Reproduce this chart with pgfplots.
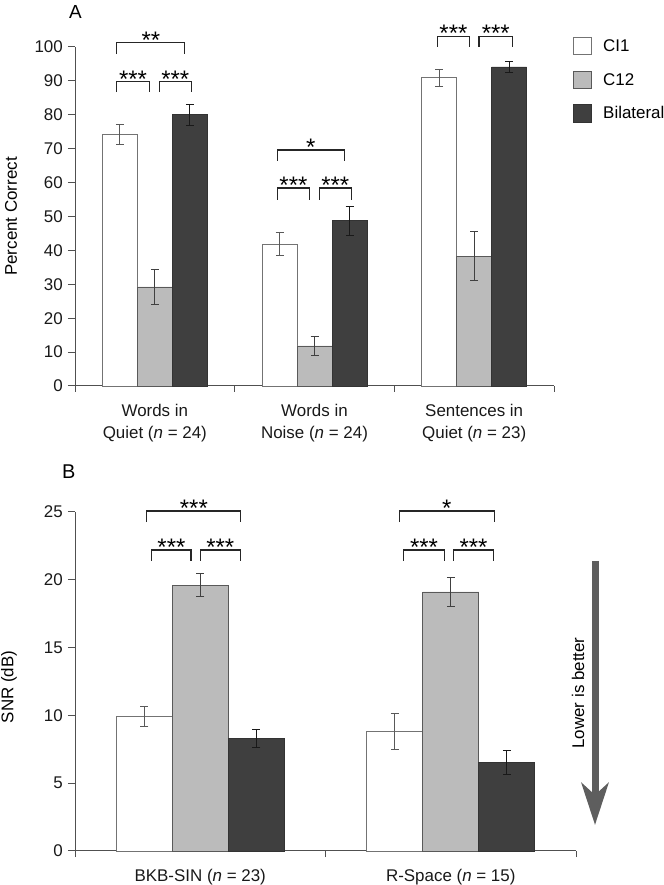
\documentclass[border=0pt]{standalone}
\usepackage{fontspec}
\setmainfont{Liberation Sans}
\usepackage{pgfplots}
\pgfplotsset{compat=1.18}
\usepackage{pgfplotstable}
\usetikzlibrary{arrows.meta}

\definecolor{cgray}{HTML}{BBBBBB}
\definecolor{cdark}{HTML}{3F3F3F}
\definecolor{axgray}{HTML}{505050}
\definecolor{arrowgray}{HTML}{5E5E5E}

\pgfplotstableread{
x CI CIe C CCe B Be
0 74.2 2.9 29.2 5.1 80.0 3.1
1 41.8 3.4 11.8 2.8 48.7 4.2
2 90.9 2.5 38.3 7.3 94.1 1.7
}\dataA

\pgfplotstableread{
x CI CIe C CCe B Be
0 9.9 0.72 19.6 0.85 8.3 0.67
1 8.8 1.35 19.1 1.05 6.5 0.88
}\dataB

\newcommand{\fs}{\fontsize{17}{22}\selectfont}
\newcommand{\br}[5]{%
 \draw[brk] (axis cs:#1,#4) |- (axis cs:#2,#3) -- (axis cs:#2,#4);
 \node[star] at (axis cs:{(#1+#2)/2},#3) {#5};}

\tikzset{
 brk/.style={draw=black!85, line width=1.1bp},
 star/.style={anchor=base, font=\fontsize{24}{24}\selectfont, yshift=-5.5bp, inner sep=0pt},
}

\pgfplotsset{
 common/.style={
  scale only axis, clip=false,
  axis x line*=bottom, axis y line*=left,
  axis line style={draw=axgray, line width=1bp},
  ybar,
  tick align=outside,
  major tick length=7bp,
  ytick style={draw=axgray, line width=1bp},
  xtick style={draw=none},
  extra x tick style={xtick style={draw=axgray, line width=1bp}, major tick length=6bp},
  extra x tick labels={},
  /pgf/number format/assume math mode=true,
  tick label style={font=\fs, text=black!90},
  yticklabel style={anchor=east, inner sep=0pt, xshift=-5bp},
  xticklabel style={anchor=north, inner sep=0pt, align=center, yshift=-11bp},
  ylabel style={font=\fs, anchor=center},
 },
 eb/.style={
   /pgfplots/error bars/y dir=both, /pgfplots/error bars/y explicit,
   /pgfplots/error bars/error bar style={draw=#1, line width=1bp},
   /pgfplots/error bars/error mark options={rotate=90, mark size=4bp, draw=#1, line width=1bp}},
 b1/.style={fill=white, draw=black!55, line width=0.9bp, eb=black!65},
 b2/.style={fill=cgray, draw=black!65, line width=0.9bp, eb=black!75},
 b3/.style={fill=cdark, draw=black!80, line width=0.9bp, eb=black!90},
}

\begin{document}
\begin{tikzpicture}[x=1bp,y=1bp]
\path[use as bounding box] (0,0) rectangle (664,885);

% Panel A
\begin{axis}[common,
  at={(75bp,499bp)}, anchor=south west,
  width=479bp, height=339bp,
  xmin=-0.5, xmax=2.5, ymin=0, ymax=100,
  ytick={0,10,...,100},
  xtick={0,1,2},
  xticklabels={{Words in\\Quiet (\textit{n} = 24)},{Words in\\Noise (\textit{n} = 24)},{Sentences in\\Quiet (\textit{n} = 23)}},
  extra x ticks={-0.5,0.5,1.5,2.5},
  bar width=35bp,
  ylabel={Percent Correct},
  ylabel style={at={(axis description cs:-0.1336,0.5)}},
]
\addplot[bar shift=-35bp, b1] table[x=x, y=CI, y error=CIe] {\dataA};
\addplot[bar shift=0bp, b2] table[x=x, y=C, y error=CCe] {\dataA};
\addplot[bar shift=35bp, b3] table[x=x, y=B, y error=Be] {\dataA};
\br{-0.2375}{-0.036}{89.7}{86.7}{***}
\br{0.027}{0.229}{89.7}{86.7}{***}
\br{-0.2375}{0.1875}{101.2}{97.9}{**}
\br{0.767}{0.969}{58.4}{54.9}{***}
\br{1.031}{1.23}{58.4}{54.9}{***}
\br{0.767}{1.1875}{69.6}{66.4}{*}
\br{1.77}{1.97}{103.2}{100}{***}
\br{2.03}{2.24}{103.2}{100}{***}
\end{axis}

% Panel B
\begin{axis}[common,
  at={(75bp,34bp)}, anchor=south west,
  width=501bp, height=339bp,
  xmin=-0.5, xmax=1.5, ymin=0, ymax=25,
  ytick={0,5,...,25},
  xtick={0,1},
  xticklabels={{BKB-SIN (\textit{n} = 23)},{R-Space (\textit{n} = 15)}},
  extra x ticks={-0.5,0.5,1.5},
  bar width=56bp,
  ylabel={SNR (dB)},
  ylabel style={at={(axis description cs:-0.1317,0.484)}},
]
\addplot[bar shift=-56bp, b1] table[x=x, y=CI, y error=CIe] {\dataB};
\addplot[bar shift=0bp, b2] table[x=x, y=C, y error=CCe] {\dataB};
\addplot[bar shift=56bp, b3] table[x=x, y=B, y error=Be] {\dataB};
\br{-0.213}{0.162}{25.07}{24.26}{***}
\br{-0.193}{-0.037}{22.2}{21.4}{***}
\br{0.0}{0.16}{22.2}{21.4}{***}
\br{0.795}{1.173}{25.07}{24.26}{*}
\br{0.813}{0.974}{22.2}{21.4}{***}
\br{1.012}{1.17}{22.2}{21.4}{***}
\end{axis}

% panel letters
\node[anchor=base west, inner sep=0pt, font=\fontsize{19}{19}\selectfont] at (69,866.7) {A};
\node[anchor=base west, inner sep=0pt, font=\fontsize{20}{20}\selectfont] at (62,406) {B};

% legend
\draw[draw=black!55, line width=0.9bp, fill=white] (573,831) rectangle (591,848);
\draw[draw=black!65, line width=0.9bp, fill=cgray] (573,797) rectangle (591,814);
\draw[draw=black!80, line width=0.9bp, fill=cdark] (573,763) rectangle (591,781);
\node[anchor=base west, inner sep=0pt, font=\fs] at (603,833) {CI1};
\node[anchor=base west, inner sep=0pt, font=\fs] at (603,799) {C12};
\node[anchor=base west, inner sep=0pt, font=\fs] at (603,766) {Bilateral};

% lower is better arrow
\draw[draw=arrowgray, line width=7bp, -{Stealth[length=42bp,width=27bp,inset=12bp]}] (595,324) -- (595,60);
\node[rotate=90, font=\fs, inner sep=0pt] at (578,192) {Lower is better};
\end{tikzpicture}
\end{document}
